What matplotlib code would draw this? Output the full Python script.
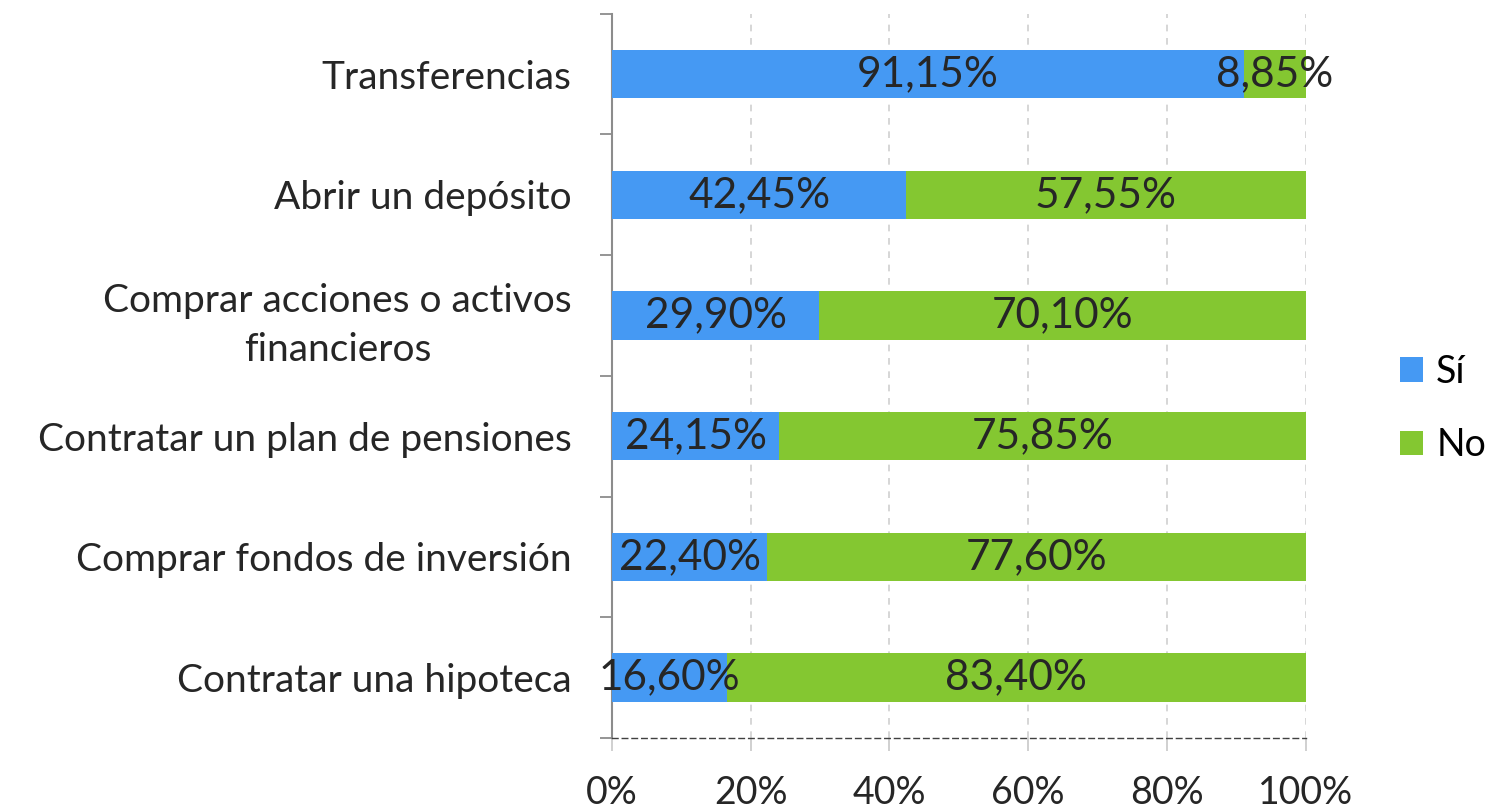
import numpy as np
import matplotlib.pyplot as plt

# data, top to bottom as in the chart
categories = ["Transferencias", "Abrir un depósito", "Comprar acciones o activos\nfinancieros",
              "Contratar un plan de pensiones", "Comprar fondos de inversión", "Contratar una hipoteca"]
si = [91.15, 42.45, 29.90, 24.15, 22.40, 16.60]
no = [8.85, 57.55, 70.10, 75.85, 77.60, 83.40]
xticks = [0, 20, 40, 60, 80, 100]

blue = "#4599F3"
green = "#84C731"
txt = "#262626"

plt.rcParams['font.family'] = ['Lato', 'DejaVu Sans']

fig = plt.figure(figsize=(15.11, 8.10), dpi=100)
ax = fig.add_axes([0.405, 0.089, 0.459, 0.894])

y = np.arange(len(categories))[::-1]
ax.barh(y, si, height=0.4, color=blue, label="Sí", zorder=3)
ax.barh(y, no, left=si, height=0.4, color=green, label="No", zorder=3)

def fmt(v):
    return f"{v:.2f}%".replace(".", ",")

for yi, s, n in zip(y, si, no):
    ax.text(s / 2, yi, fmt(s), ha="center", va="center", fontsize=30.5, color=txt, zorder=4)
    ax.text(s + n / 2, yi, fmt(n), ha="center", va="center", fontsize=30.5, color=txt, zorder=4)

ax.set_xlim(0, 100)
ax.set_ylim(-0.5, len(categories) - 0.5)
ax.set_xticks(xticks)
ax.set_xticklabels([f"{t}%" for t in xticks], fontsize=27, color=txt)
ax.set_yticks(y)
ax.set_yticklabels(categories, fontsize=28, color=txt, linespacing=1.45)
for lab in ax.get_yticklabels():
    lab.set_multialignment("center")
ax.set_yticks(np.arange(-0.5, len(categories), 1), minor=True)

ax.tick_params(axis="y", which="major", length=0, pad=29)
ax.tick_params(axis="y", which="minor", length=9, color="#8c8c8c", width=1.3)
ax.tick_params(axis="x", length=9, color="#c8c8c8", width=1.2, pad=18)

ax.grid(axis="x", color="#cfcfcf", linestyle=(0, (4, 4)), linewidth=1.2, zorder=0)
for s in ["top", "right"]:
    ax.spines[s].set_visible(False)
ax.spines["left"].set_color("#8c8c8c")
ax.spines["left"].set_linewidth(1.5)
ax.spines["bottom"].set_color("#404040")
ax.spines["bottom"].set_linestyle((0, (4, 3)))
ax.spines["bottom"].set_linewidth(1.0)

ax.legend(loc="center left", bbox_to_anchor=(1.136, 0.455), frameon=False, fontsize=27,
          handlelength=0.62, handleheight=0.62, handletextpad=0.35, labelspacing=1.0,
          labelcolor="black", borderaxespad=0, borderpad=0)

fig.savefig("out.png", dpi=100)
